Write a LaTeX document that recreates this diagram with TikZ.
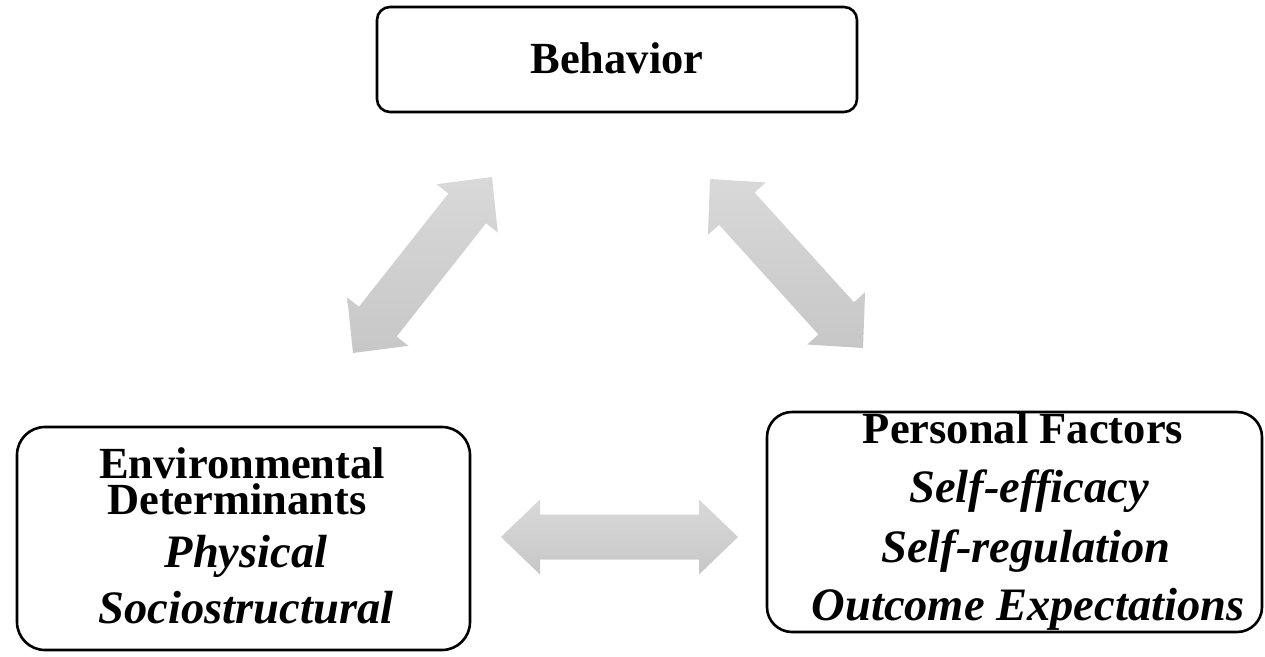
\documentclass[tikz,border=0pt]{standalone}
\usepackage{fontspec}
\setmainfont{Liberation Serif}
\usetikzlibrary{calc}
\tikzset{
  box/.style={draw=black, line width=2.6pt, inner sep=0pt, fill=white},
  hd/.style={font=\fontsize{44.5pt}{46pt}\selectfont\bfseries, inner sep=0pt, anchor=base},
  it/.style={font=\fontsize{46.5pt}{48pt}\selectfont\bfseries\itshape, inner sep=0pt, anchor=base},
  arrfill/.style={top color=black!15, bottom color=black!22, draw=none},
}
\newcommand\dblarr[5]{%
  \path ($(#1)!#5!(#2)$) coordinate (h1) ($(#2)!#5!(#1)$) coordinate (h2);
  \shade[arrfill] (#1) -- ($(h1)!#4!90:(#2)$) -- ($(h1)!#3!90:(#2)$)
    -- ($(h2)!#3!-90:(#1)$) -- ($(h2)!#4!-90:(#1)$) -- (#2)
    -- ($(h2)!#4!90:(#1)$) -- ($(h2)!#3!90:(#1)$)
    -- ($(h1)!#3!-90:(#2)$) -- ($(h1)!#4!-90:(#2)$) -- cycle;}
\begin{document}
\begin{tikzpicture}[x=1pt,y=-1pt]
\useasboundingbox (0,0) rectangle (1265,656);
% boxes
\node[box, rounded corners=13pt, minimum width=480pt, minimum height=105pt] (behbox) at (617,59.5) {};
\node[box, rounded corners=28pt, minimum width=453pt, minimum height=223pt] (envbox) at (243.5,538.5) {};
\node[box, rounded corners=25pt, minimum width=495pt, minimum height=220pt] (perbox) at (1014.5,522) {};
% texts
\node[hd] (tbeh) at (617,73) {Behavior};
\node[hd] (tenv1) at (242,478) {Environmental};
\node[hd] (tenv2) at (237,514) {Determinants};
\node[it] (tenv3) at (246,567) {Physical};
\node[it] (tenv4) at (246,623) {Sociostructural};
\node[hd] (tper1) at (1023,443) {Personal Factors};
\node[it] (tper2) at (1029,502) {Self-efficacy};
\node[it] (tper3) at (1026,562) {Self-regulation};
\node[it] (tper4) at (1028,620) {Outcome Expectations};
% arrow end points
\coordinate (a1) at (353,353);
\coordinate (b1) at (492,177);
\coordinate (a2) at (710,179);
\coordinate (b2) at (863,348);
\coordinate (a3) at (501,537);
\coordinate (b3) at (738,537);
\dblarr{a1}{b1}{24pt}{39pt}{40pt}
\dblarr{a2}{b2}{24pt}{39pt}{40pt}
\dblarr{a3}{b3}{22.5pt}{37.5pt}{39pt}
\end{tikzpicture}
\end{document}
